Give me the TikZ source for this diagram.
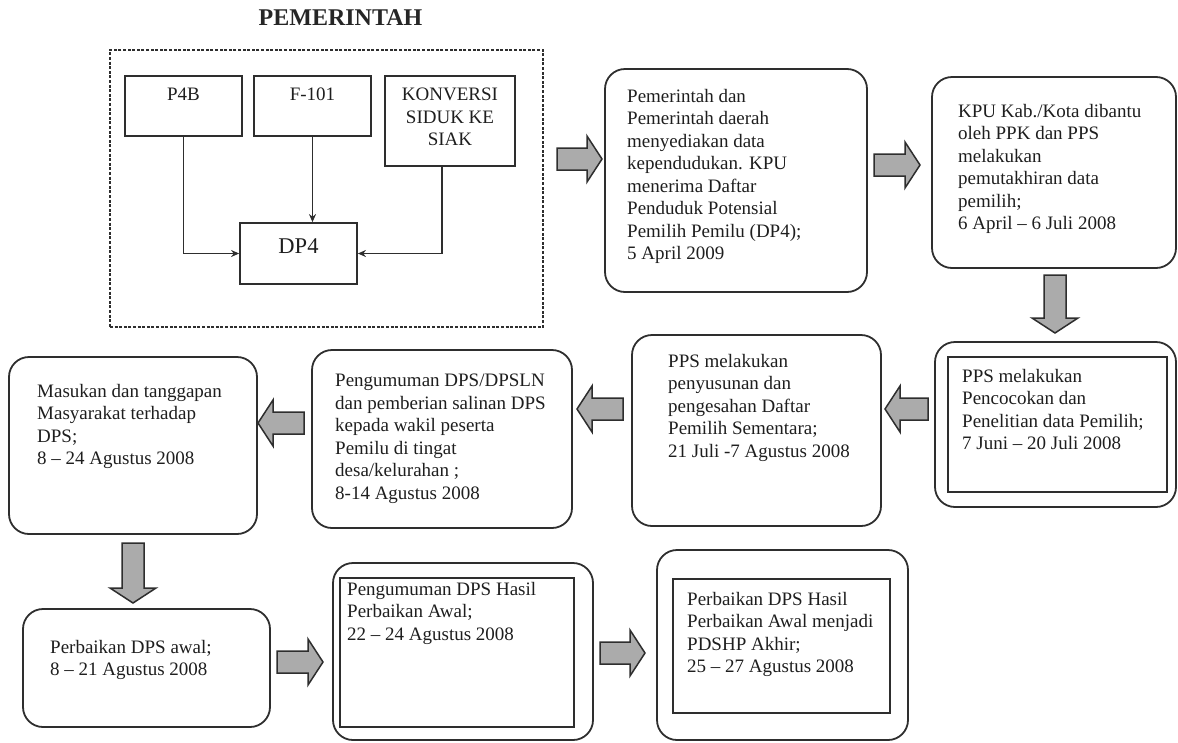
\documentclass[tikz,border=0pt]{standalone}
\usepackage{fontspec}
\setmainfont{Liberation Serif}
\usetikzlibrary{arrows.meta,calc}
\definecolor{ink}{HTML}{2E2E2E}
\definecolor{tink}{HTML}{1E1E1E}
\definecolor{afill}{HTML}{ABABAB}
\tikzset{
  rbox/.style={draw=ink, line width=1.8pt, rounded corners=20pt, inner sep=0pt},
  sbox/.style={draw=ink, line width=1.8pt, inner sep=0pt},
  txt/.style={inner sep=0pt, anchor=north west, align=left, text=tink, font=\fontsize{19}{22.5}\selectfont},
  stxt/.style={inner sep=0pt, anchor=north, align=center, text=tink, font=\fontsize{19}{22.5}\selectfont},
  conn/.style={line width=1.6pt, draw=ink, -{Stealth[length=8pt,width=7pt]}},
  pics/barrow/.style={code={
    \draw[line width=1.5pt, draw=ink, fill=afill, line join=miter]
      (0,-11) -- ({#1-15},-11) -- ({#1-15},-23) -- (#1,0) -- ({#1-15},23) -- ({#1-15},11) -- (0,11) -- cycle;
  }}
}
\begin{document}
\begin{tikzpicture}[x=1pt,y=-1pt]
\useasboundingbox (0,0) rectangle (1178,742);

% title and government block
\node[font=\bfseries\fontsize{24}{28}\selectfont, text=black!85, inner sep=0pt] (title) at (340.5,18) {PEMERINTAH};
\node[draw=ink, line width=1.7pt, dash pattern=on 3pt off 1.6pt, minimum width=433pt, minimum height=277pt, inner sep=0pt] (pem) at (326.5,188.5) {};

\node[sbox, minimum width=117pt, minimum height=60pt] (p4b) at (183.5,106) {};
\node[sbox, minimum width=117pt, minimum height=60pt] (f101) at (312.5,106) {};
\node[sbox, minimum width=130pt, minimum height=90pt] (konv) at (450,121) {};
\node[sbox, minimum width=117pt, minimum height=61pt] (dp4) at (298.5,253.5) {};
\node[stxt] (p4bl) at (183.5,88) {P4B};
\node[stxt] (f101l) at (312.5,88) {F-101};
\node[stxt] (konvl) at (450,88) {KONVERSI\\SIDUK KE\\SIAK};
\node[stxt, font=\fontsize{22.5}{26}\selectfont] (dp4l) at (298.5,238) {DP4};
\draw[conn] (p4b.south) |- (dp4.west);
\draw[conn] (f101.south) -- (f101.south |- dp4.north);
\draw[conn] ([xshift=-8pt]konv.south) |- (dp4.east);

% boxes
\node[rbox, minimum width=262pt, minimum height=223pt] (b1) at (736,180.5) {};
\node[rbox, minimum width=244pt, minimum height=191pt] (b2) at (1054,172.5) {};
\node[rbox, minimum width=241pt, minimum height=165pt] (b3) at (1055.5,424.5) {};
\node[sbox, minimum width=219pt, minimum height=135pt] (b3i) at (1057.5,424.5) {};
\node[rbox, minimum width=249pt, minimum height=191pt] (b4) at (756.5,430.5) {};
\node[rbox, minimum width=260pt, minimum height=178pt] (b5) at (442,439) {};
\node[rbox, minimum width=248pt, minimum height=177pt] (b6) at (133,445.5) {};
\node[rbox, minimum width=247pt, minimum height=118pt] (b7) at (146.5,668) {};
\node[rbox, minimum width=260pt, minimum height=177pt] (b8) at (463,651.5) {};
\node[sbox, minimum width=234pt, minimum height=149pt] (b8i) at (457,652.5) {};
\node[rbox, minimum width=251pt, minimum height=190pt] (b9) at (782.5,645) {};
\node[sbox, minimum width=217pt, minimum height=134pt] (b9i) at (781.5,646) {};

% texts
\node[txt] (t1) at (627,89) {Pemerintah dan\\Pemerintah daerah\\menyediakan data\\kependudukan. KPU\\menerima Daftar\\Penduduk Potensial\\Pemilih Pemilu (DP4);\\5 April 2009};
\node[txt] (t2) at (958,104) {KPU Kab./Kota dibantu\\oleh PPK dan PPS\\melakukan\\pemutakhiran data\\pemilih;\\6 April – 6 Juli 2008};
\node[txt] (t3) at (962,369) {PPS melakukan\\Pencocokan dan\\Penelitian data Pemilih;\\7 Juni – 20 Juli 2008};
\node[txt] (t4) at (668,354) {PPS melakukan\\penyusunan dan\\pengesahan Daftar\\Pemilih Sementara;\\21 Juli -7 Agustus 2008};
\node[txt] (t5) at (335,374) {Pengumuman DPS/DPSLN\\dan pemberian salinan DPS\\kepada wakil peserta\\Pemilu di tingat\\desa/kelurahan ;\\8-14 Agustus 2008};
\node[txt] (t6) at (37,384) {Masukan dan tanggapan\\Masyarakat terhadap\\DPS;\\8 – 24 Agustus 2008};
\node[txt] (t7) at (50,640) {Perbaikan DPS awal;\\8 – 21 Agustus 2008};
\node[txt] (t8) at (347,582) {Pengumuman DPS Hasil\\Perbaikan Awal;\\22 – 24 Agustus 2008};
\node[txt] (t9) at (687,592) {Perbaikan DPS Hasil\\Perbaikan Awal menjadi\\PDSHP Akhir;\\25 – 27 Agustus 2008};

% block arrows
\pic at (557,159) {barrow=45};
\pic at (874,165) {barrow=46};
\pic[rotate=-90] at (1055,275) {barrow=58};
\pic[rotate=180] at (928,409) {barrow=43};
\pic[rotate=180] at (623,409) {barrow=46};
\pic[rotate=180] at (304,423) {barrow=46};
\pic[rotate=-90] at (133,543) {barrow=60};
\pic at (277,662) {barrow=46};
\pic at (600,653) {barrow=45};
\end{tikzpicture}
\end{document}
